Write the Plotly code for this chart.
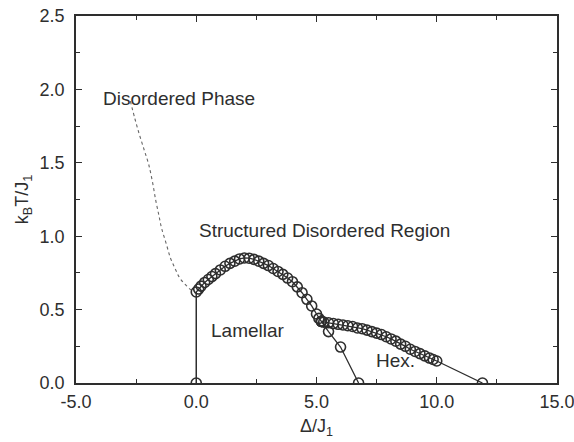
import plotly.graph_objects as go

# Dotted boundary (Disordered -> Structured disordered)
dot_x = [-2.74, -2.55, -2.36, -2.15, -1.98, -1.82, -1.68, -1.55, -1.45, -1.25, -1.07, -0.88, -0.69, -0.45, -0.23, 0.0]
dot_y = [1.92, 1.80, 1.69, 1.58, 1.49, 1.37, 1.24, 1.14, 1.06, 0.95, 0.85, 0.78, 0.716, 0.67, 0.636, 0.614]

# Vertical Lamellar boundary
vert_x = [0.0, 0.0]
vert_y = [0.0, 0.62]

# Dome of circles
dome_x = [0.0, 0.1, 0.2, 0.35, 0.5, 0.65, 0.8, 1.0, 1.2, 1.4, 1.6, 1.8, 2.0, 2.2, 2.4, 2.6,
          2.8, 3.0, 3.2, 3.4, 3.6, 3.8, 4.0, 4.2, 4.4, 4.6, 4.8, 5.0, 5.1, 5.2]
dome_y = [0.62, 0.64, 0.66, 0.685, 0.705, 0.725, 0.745, 0.77, 0.795, 0.815, 0.83, 0.845, 0.852, 0.85, 0.842, 0.83,
          0.815, 0.80, 0.78, 0.76, 0.74, 0.715, 0.69, 0.655, 0.615, 0.57, 0.525, 0.47, 0.44, 0.42]

# Hexagonal upper boundary
hex_x = [5.2, 5.3, 5.5, 5.7, 5.9, 6.1, 6.3, 6.5, 6.7, 6.9, 7.1, 7.3, 7.5, 7.7, 7.9, 8.1, 8.3, 8.5,
         8.7, 8.9, 9.1, 9.3, 9.5, 9.7, 9.85, 10.0, 11.9]
hex_y = [0.42, 0.415, 0.41, 0.405, 0.40, 0.395, 0.39, 0.385, 0.375, 0.37, 0.36, 0.35, 0.34, 0.33, 0.315,
         0.30, 0.285, 0.265, 0.25, 0.23, 0.215, 0.20, 0.185, 0.17, 0.16, 0.15, 0.0]

# Lamellar / Hex boundary
lh_x = [5.2, 5.5, 6.0, 6.75]
lh_y = [0.42, 0.35, 0.245, 0.0]

labels = ["Disordered Phase", "Structured Disordered Region", "Lamellar", "Hex."]
label_x = [-3.95, 0.03, 0.53, 7.39]
label_y = [1.94, 1.04, 0.36, 0.15]

xticks = [-5.0, 0.0, 5.0, 10.0, 15.0]
yticks = [0.0, 0.5, 1.0, 1.5, 2.0, 2.5]

INK = "#2e2e2e"
FONT = "Liberation Sans, Arial, sans-serif"

fig = go.Figure()
fig.add_trace(go.Scatter(x=dot_x, y=dot_y, mode="lines", line=dict(color="#666666", width=1.1, dash="dot"),
                         line_shape="spline", showlegend=False))
fig.add_trace(go.Scatter(x=vert_x, y=vert_y, mode="lines", line=dict(color=INK, width=1.5), showlegend=False))
marker = dict(symbol="circle-open", size=10, color=INK, line=dict(color=INK, width=1.6))
fig.add_trace(go.Scatter(x=dome_x, y=dome_y, mode="lines+markers", line=dict(color=INK, width=1.3),
                         marker=marker, showlegend=False))
fig.add_trace(go.Scatter(x=hex_x, y=hex_y, mode="lines+markers", line=dict(color=INK, width=1.3),
                         marker=marker, showlegend=False))
fig.add_trace(go.Scatter(x=lh_x, y=lh_y, mode="lines+markers", line=dict(color=INK, width=1.3),
                         marker=marker, showlegend=False))
fig.add_trace(go.Scatter(x=[0.0], y=[0.0], mode="markers", marker=marker, showlegend=False))

for t, x, y in zip(labels, label_x, label_y):
    fig.add_annotation(x=x, y=y, text=t, showarrow=False, xanchor="left", yanchor="middle",
                       font=dict(family=FONT, size=19, color=INK))

axis_common = dict(showgrid=False, zeroline=False, showline=True, linecolor=INK, linewidth=1.5,
                   mirror="allticks", ticks="inside", ticklen=6, tickwidth=1.2, tickcolor=INK,
                   tickfont=dict(family=FONT, size=18, color=INK), automargin=False,
                   ticklabeloverflow="allow",
                   minor=dict(ticks="inside", ticklen=4, tickwidth=1.2, tickcolor=INK))

fig.update_xaxes(range=[-5, 15], tickvals=xticks, ticktext=[f"{v:.1f}" for v in xticks],
                 title=dict(text="Δ/J<sub>1</sub>", font=dict(family=FONT, size=18, color=INK), standoff=8),
                 minor_dtick=2.5, minor_tick0=0, ticklabelstandoff=2, **axis_common)
fig.update_yaxes(range=[0, 2.5], tickvals=yticks, ticktext=[f"{v:.1f}" for v in yticks],
                 title=dict(text="k<sub>B</sub>T/J<sub>1</sub>", font=dict(family=FONT, size=18, color=INK), standoff=6),
                 minor_dtick=0.25, minor_tick0=0, ticklabelstandoff=6, **axis_common)

fig.update_layout(width=574, height=442, margin=dict(l=76, r=17, t=16, b=59),
                  paper_bgcolor="white", plot_bgcolor="white")
fig.write_html("out.html")
